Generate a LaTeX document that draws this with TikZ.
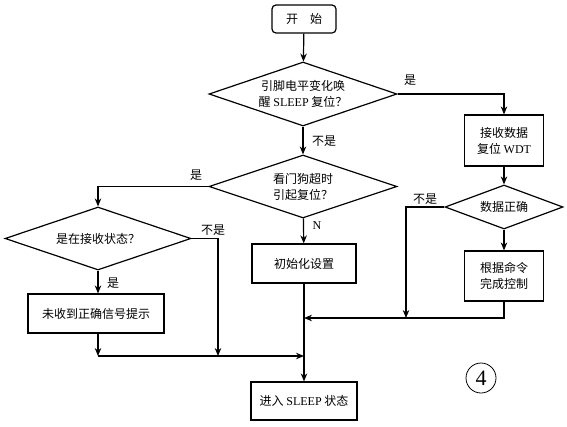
\documentclass[tikz,border=0pt]{standalone}
\usepackage{fontspec}
\setmainfont{Liberation Serif}
\newfontfamily\cjk{Noto Sans CJK SC}
\usetikzlibrary{shapes.geometric,arrows.meta}
\begin{document}
\begin{tikzpicture}[x=1pt,y=-1pt,
  every node/.style={font=\cjk\fontsize{12}{16}\selectfont},
  box/.style={draw,line width=1.2pt,rectangle,align=center,inner sep=0pt},
  dia/.style={draw,line width=1.2pt,diamond,align=center,inner sep=0pt,aspect=2.9},
  arr/.style={line width=1.2pt,-{Stealth[length=8pt,width=6.5pt]}},
  lab/.style={inner sep=0pt}]
\useasboundingbox (0,0) rectangle (567,426);
\fill[white] (0,0) rectangle (567,426);
% nodes
\node[box,rounded corners=4pt,minimum width=64pt,minimum height=28pt] (start) at (304,19) {开\hspace{1em}始};
\node[dia,minimum width=188pt,minimum height=64pt] (d1) at (303,94) {引脚电平变化唤\\醒 {\rmfamily SLEEP} 复位？};
\node[box,minimum width=79pt,minimum height=51pt] (b1) at (504,140.5) {接收数据\\复位 {\rmfamily WDT}};
\node[dia,minimum width=118pt,minimum height=44pt] (d3) at (504,207) {数据正确};
\node[box,minimum width=79pt,minimum height=50pt] (b2) at (504,276) {根据命令\\完成控制};
\node[dia,minimum width=188pt,minimum height=63pt] (d2) at (303,186.5) {看门狗超时\\引起复位？};
\node[box,minimum width=104pt,minimum height=39pt] (b3) at (304,263.5) {初始化设置};
\node[box,minimum width=106pt,minimum height=38pt] (b4) at (304,401) {进入 {\rmfamily SLEEP} 状态};
\node[dia,minimum width=186pt,minimum height=63pt] (d4) at (98,238.5) {是在接收状态？};
\node[box,minimum width=136pt,minimum height=39pt] (b5) at (96,313.5) {未收到正确信号提示};
\node[draw,circle,line width=0.8pt,minimum size=30pt,inner sep=0pt,font=\rmfamily\fontsize{22}{22}\selectfont] (c4) at (481,378) {4};
% junctions
\coordinate (j1) at (218,356);
\coordinate (j2) at (98,356);
\coordinate (j3) at (304,356);
\coordinate (j4) at (406,318);
\coordinate (j5) at (304,318);
% connectors
\draw[arr] (start) -- (d1);
\draw[arr] (d1.east) -| (b1.north);
\draw[arr] (b1) -- (d3);
\draw[arr] (d3) -- (b2);
\draw[arr] (d1) -- (d2);
\draw[arr] (d2.west) -| (d4.north);
\draw[arr] (d2) -- (b3);
\draw[arr] (d4.south) -- (d4.south |- b5.north);
\draw[arr] (d4.east) -| (j1);
\draw[arr] (d4.south |- b5.south) -- (j2);
\draw[arr] (j2) -- (j3);
\draw[arr] (b3) -- (b4);
\draw[arr] (d3.west) -| (j4);
\draw[arr] (b2.south) |- (j5);
% labels
\node[lab] (l1) at (410,80) {是};
\node[lab] (l2) at (324,141) {不是};
\node[lab] (l3) at (196,175) {是};
\node[lab,font=\rmfamily\fontsize{12}{14}\selectfont] (l4) at (317,226) {N};
\node[lab] (l5) at (425,199) {不是};
\node[lab] (l6) at (213,230) {不是};
\node[lab] (l7) at (113,283) {是};
\end{tikzpicture}
\end{document}
